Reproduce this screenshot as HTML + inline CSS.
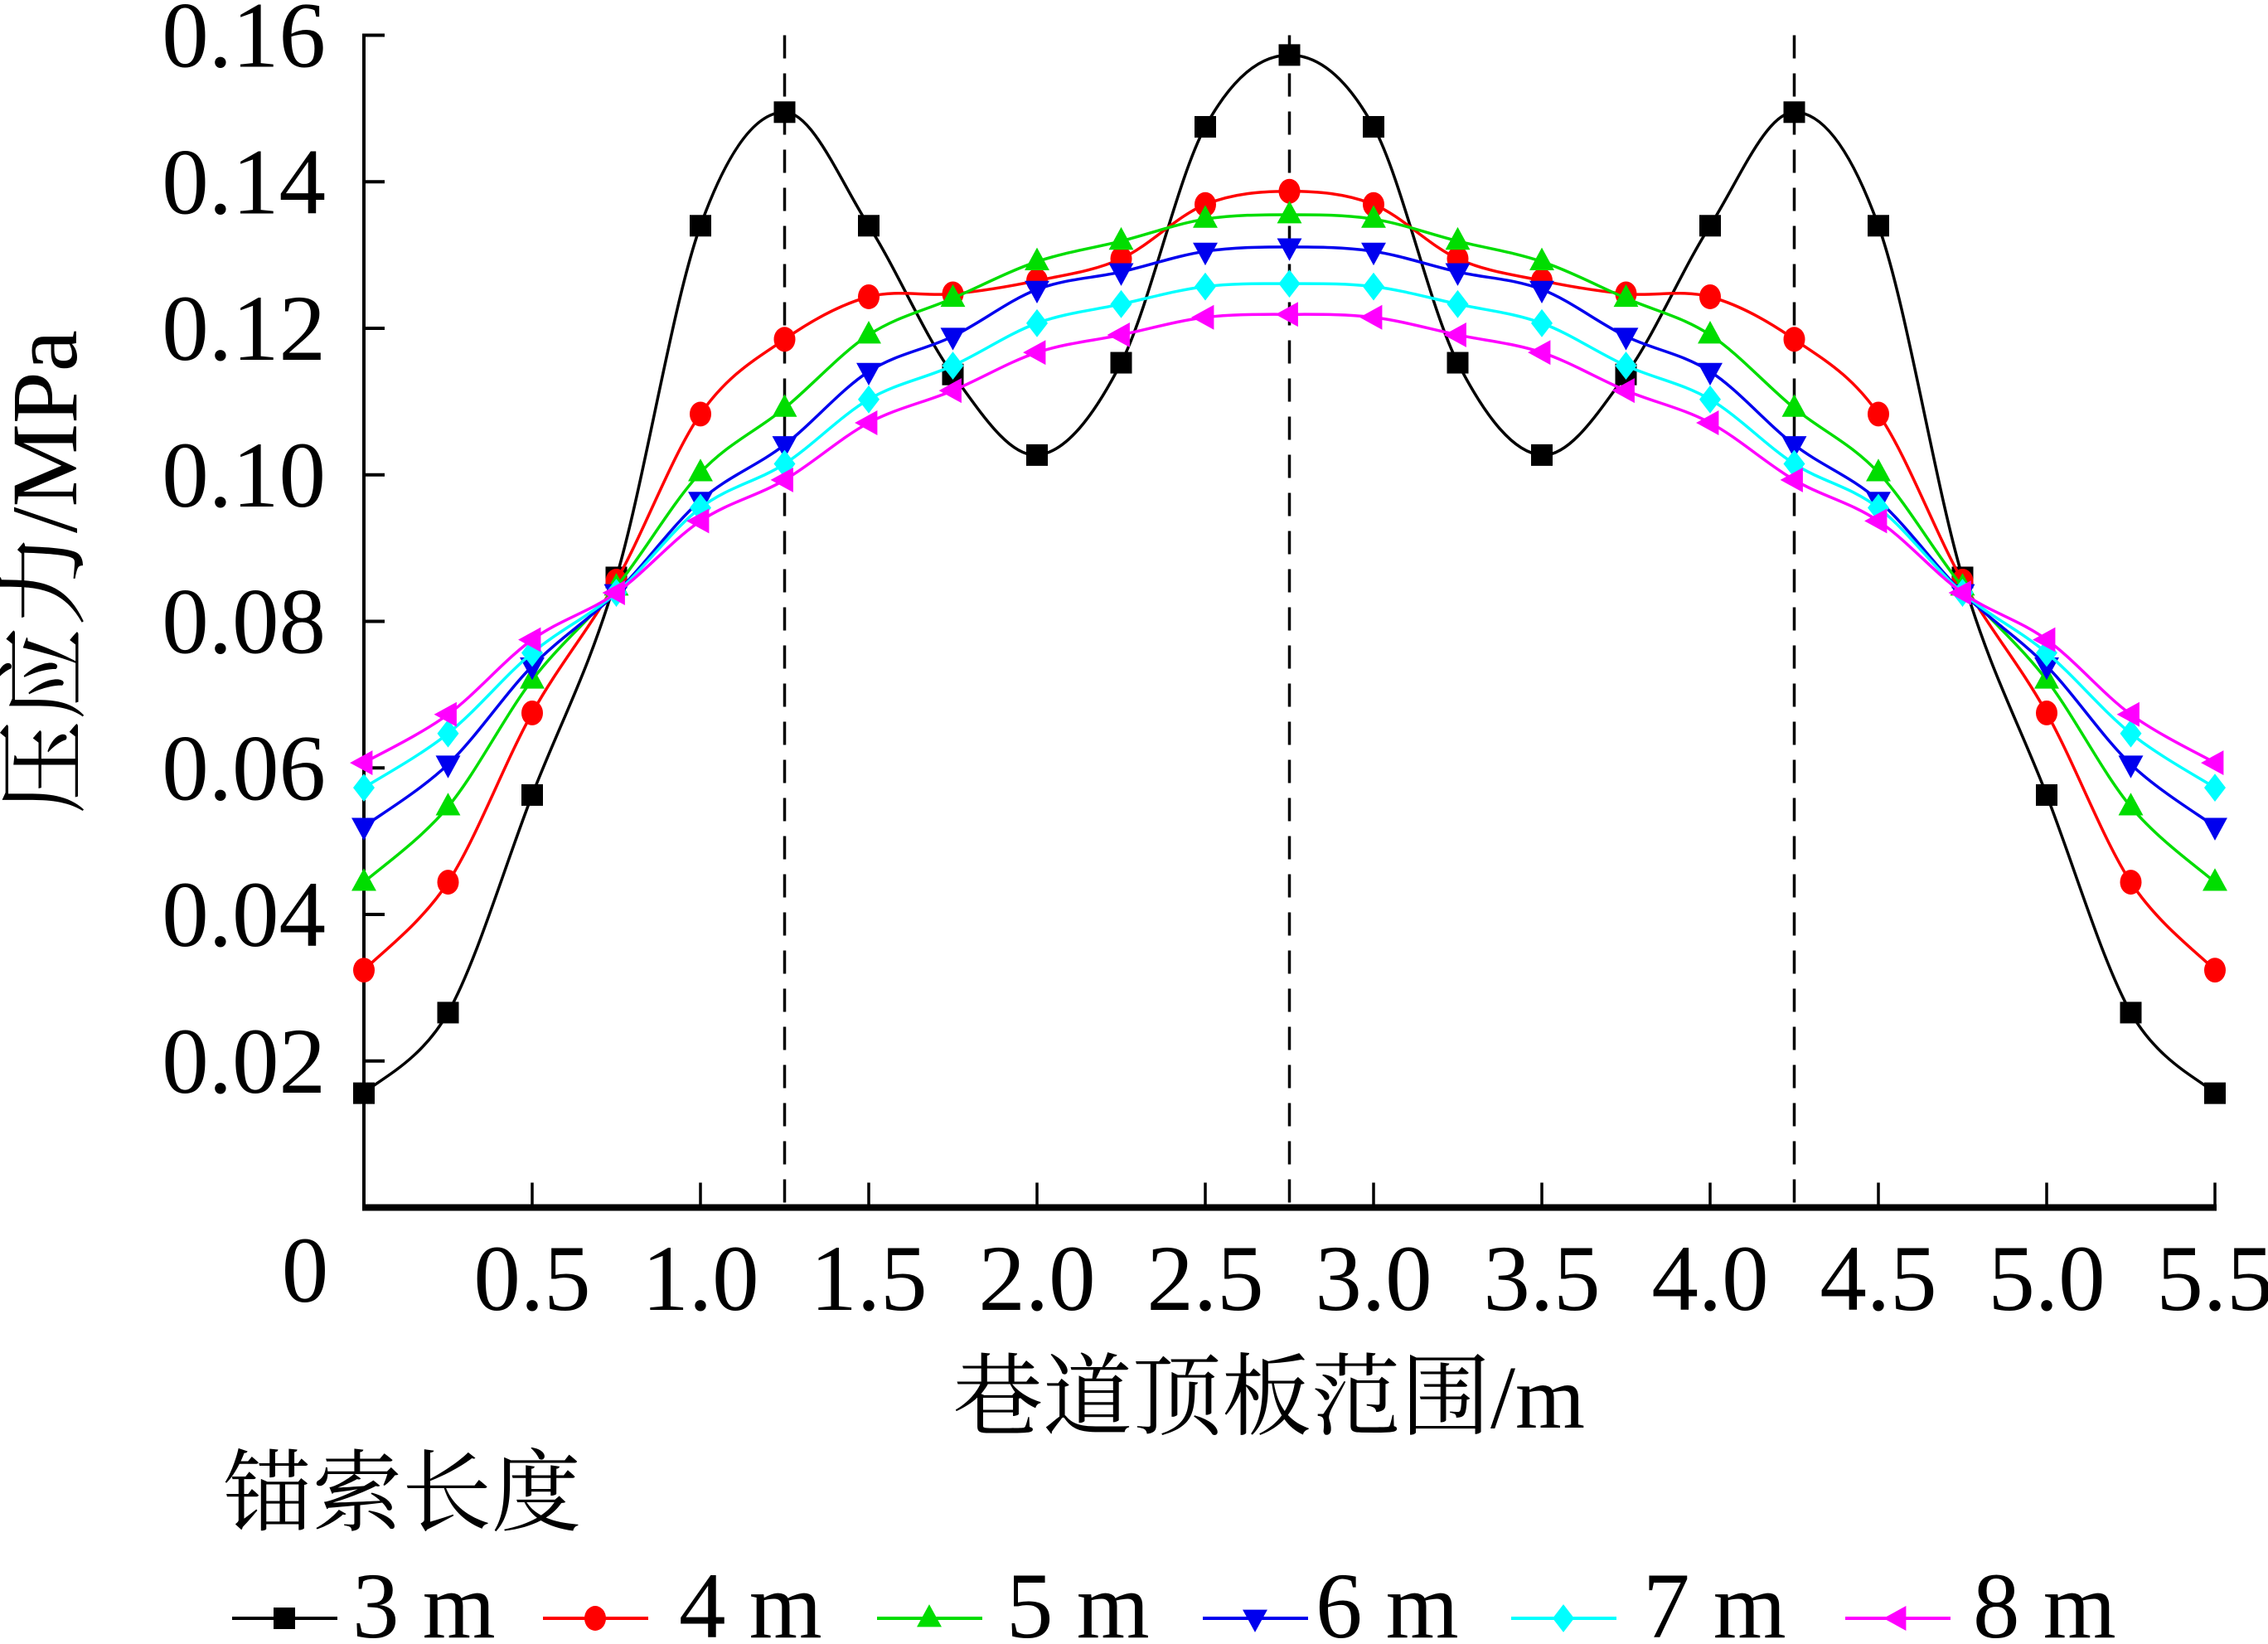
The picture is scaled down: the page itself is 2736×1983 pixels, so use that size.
<!DOCTYPE html>
<html><head><meta charset="utf-8">
<style>
html,body{margin:0;padding:0;background:#fff;}
svg{display:block;}
text{font-family:"Liberation Serif","Noto Serif CJK SC","Noto Sans CJK SC",serif;fill:#000;}
</style></head>
<body>
<svg id="chart" width="2736" height="1983" viewBox="0 0 2736 1983" xmlns="http://www.w3.org/2000/svg">
<g id="plot"></g>
</svg>
<script>
const xValues = [0,0.25,0.5,0.75,1.0,1.25,1.5,1.75,2.0,2.25,2.5,2.75,3.0,3.25,3.5,3.75,4.0,4.25,4.5,4.75,5.0,5.25,5.5];
const s3m = [0.0156,0.0266,0.0563,0.086,0.134,0.1495,0.134,0.1137,0.1027,0.1153,0.1475,0.1573,0.1475,0.1153,0.1027,0.1137,0.134,0.1495,0.134,0.086,0.0563,0.0266,0.0156];
const s4m = [0.0324,0.0444,0.0675,0.0855,0.1083,0.1185,0.1243,0.1247,0.1265,0.1295,0.1369,0.1387,0.1369,0.1295,0.1265,0.1247,0.1243,0.1185,0.1083,0.0855,0.0675,0.0444,0.0324];
const s5m = [0.0444,0.0547,0.072,0.0847,0.1003,0.1091,0.1191,0.1241,0.1291,0.1319,0.1349,0.1355,0.1349,0.1319,0.1291,0.1241,0.1191,0.1091,0.1003,0.0847,0.072,0.0547,0.0444];
const s6m = [0.052,0.0605,0.0739,0.0839,0.0965,0.1041,0.1141,0.1189,0.1253,0.1277,0.1305,0.1311,0.1305,0.1277,0.1253,0.1189,0.1141,0.1041,0.0965,0.0839,0.0739,0.0605,0.052];
const s7m = [0.0573,0.0647,0.0757,0.0839,0.0955,0.1015,0.1103,0.1149,0.1207,0.1233,0.1257,0.1261,0.1257,0.1233,0.1207,0.1149,0.1103,0.1015,0.0955,0.0839,0.0757,0.0647,0.0573];
const s8m = [0.0607,0.0673,0.0775,0.0839,0.0937,0.0993,0.1071,0.1115,0.1167,0.1191,0.1215,0.1219,0.1215,0.1191,0.1167,0.1115,0.1071,0.0993,0.0937,0.0839,0.0775,0.0673,0.0607];
const seriesNames = ["3 m","4 m","5 m","6 m","7 m","8 m"];
const xTickLabels = ["0.5","1.0","1.5","2.0","2.5","3.0","3.5","4.0","4.5","5.0","5.5"];
const yTickLabels = ["0.02","0.04","0.06","0.08","0.10","0.12","0.14","0.16"];
const refLines = [1.25,2.75,4.25];

const NS="http://www.w3.org/2000/svg";
const g=document.getElementById('plot');
const X0=439, XS=406, Y0=1456.5, YTOP=42.5;
function X(v){return X0+v*XS;}
function Y(v){return Y0-(v/0.16)*(Y0-YTOP);}
function mk(tag,attrs,parent){const e=document.createElementNS(NS,tag);for(const k in attrs)e.setAttribute(k,attrs[k]);(parent||g).appendChild(e);return e;}

refLines.forEach(v=>{
  const l=mk('line',{x1:X(v),x2:X(v),y1:YTOP,y2:Y0,stroke:'#000','stroke-width':3.5,'stroke-dasharray':'28,18'});
  
  
});

const ya=mk('line',{x1:X0,x2:X0,y1:YTOP-2,y2:Y0+4,stroke:'#000','stroke-width':4});


const xa=mk('line',{x1:X0-2,x2:X(5.5)+2,y1:Y0,y2:Y0,stroke:'#000','stroke-width':8});



yTickLabels.forEach(t=>{
  const v=parseFloat(t);
  const tk=mk('line',{x1:X0,x2:X0+25,y1:Y(v),y2:Y(v),stroke:'#000','stroke-width':4});
  
  
  const tx=mk('text',{x:393,y:Y(v)+38,'text-anchor':'end','font-size':113});
  tx.textContent=t;
  
  
});
xTickLabels.forEach(t=>{
  const v=parseFloat(t);
  const tk=mk('line',{x1:X(v),x2:X(v),y1:Y0,y2:Y0-30,stroke:'#000','stroke-width':3.5});
  
  
  const tx=mk('text',{x:X(v),y:1580,'text-anchor':'middle','font-size':113});
  tx.textContent=t;
  
  
});
const z=mk('text',{x:368,y:1570,'text-anchor':'middle','font-size':113});
z.textContent='0';



const seriesData=[s3m,s4m,s5m,s6m,s7m,s8m];
const colors=['#000000','#ff0000','#00dd00','#0000ee','#00ffff','#ff00ff'];
const shapes=['square','circle','up','down','diamond','left'];
function spline(pts){
  let d='M'+pts[0][0]+','+pts[0][1];
  for(let i=0;i<pts.length-1;i++){
    const p0=pts[Math.max(i-1,0)],p1=pts[i],p2=pts[i+1],p3=pts[Math.min(i+2,pts.length-1)];
    const c1x=p1[0]+(p2[0]-p0[0])/6,c1y=p1[1]+(p2[1]-p0[1])/6;
    const c2x=p2[0]-(p3[0]-p1[0])/6,c2y=p2[1]-(p3[1]-p1[1])/6;
    d+=' C'+c1x+','+c1y+' '+c2x+','+c2y+' '+p2[0]+','+p2[1];
  }
  return d;
}
function marker(shape,cx,cy,col,parent){
  const r=13;let e;
  if(shape==='square')e=mk('rect',{x:cx-r,y:cy-r,width:2*r,height:2*r,fill:col},parent);
  else if(shape==='circle')e=mk('ellipse',{cx:cx,cy:cy,rx:r,ry:r*1.15,fill:col},parent);
  else{
    let p;
    if(shape==='up')p=[[cx,cy-r*1.3],[cx-r*1.15,cy+r*0.8],[cx+r*1.15,cy+r*0.8]];
    else if(shape==='down')p=[[cx,cy+r*1.3],[cx-r*1.15,cy-r*0.8],[cx+r*1.15,cy-r*0.8]];
    else if(shape==='diamond')p=[[cx,cy-r*1.3],[cx+r,cy],[cx,cy+r*1.3],[cx-r,cy]];
    else p=[[cx-r*1.3,cy],[cx+r*0.8,cy-r*1.15],[cx+r*0.8,cy+r*1.15]];
    e=mk('polygon',{points:p.map(q=>q.join(',')).join(' '),fill:col},parent);
  }
  return e;
}
seriesData.forEach((arr,si)=>{
  const sg=mk('g',{});
  
  
  const pts=arr.map((v,i)=>[X(xValues[i]),Y(v)]);
  const p=mk('path',{d:spline(pts),fill:'none',stroke:colors[si],'stroke-width':3.5},sg);
  
  
  pts.forEach(q=>{
    const m=marker(shapes[si],q[0],q[1],colors[si],sg);
    
    
  });
});

const lineStarts=[280,655,1058,1451,1823,2226];
const textStarts=[425,819,1214,1587,1982,2380];
seriesNames.forEach((n,i)=>{
  const lg=mk('g',{});
  
  
  mk('line',{x1:lineStarts[i],x2:lineStarts[i]+127,y1:1952,y2:1952,stroke:colors[i],'stroke-width':4},lg);
  marker(shapes[i],lineStarts[i]+63,1952,colors[i],lg);
  const t=mk('text',{x:textStarts[i],y:1975,'font-size':113},lg);
  t.textContent=n;
});
</script>
<script>
(function(){
  const svg=document.getElementById('chart');
  const NS="http://www.w3.org/2000/svg";
  function t(txt,attrs,name){const e=document.createElementNS(NS,'text');for(const k in attrs)e.setAttribute(k,attrs[k]);e.textContent=txt;
    
    
    svg.appendChild(e);}
  t('巷道顶板范围/m',{x:1531,y:1722,'text-anchor':'middle','font-size':108},'x-axis-title');
  t('锚索长度',{x:269,y:1838,'font-size':108},'legend-title');
  t('压应力/MPa',{x:0,y:0,'text-anchor':'middle','font-size':113,transform:'translate(92,690) rotate(-90)'},'y-axis-title');
})();
</script>
</body></html>
